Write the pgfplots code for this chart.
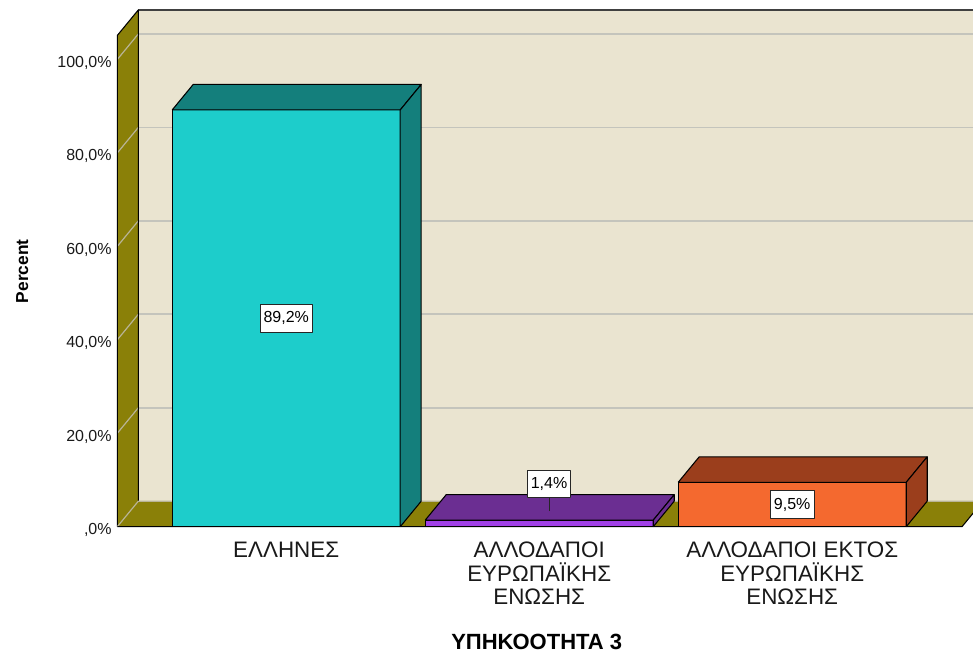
\documentclass[border=0pt]{standalone}
\usepackage{fontspec}
\setmainfont{Liberation Sans}
\usepackage{pgfplots}
\pgfplotsset{compat=1.18}
\definecolor{wallback}{RGB}{234,228,208}
\definecolor{olivew}{RGB}{138,128,8}
\definecolor{gridc}{RGB}{196,196,188}
\definecolor{gridw}{RGB}{185,180,150}
\definecolor{cyanF}{RGB}{29,205,203}
\definecolor{cyanD}{RGB}{20,127,124}
\definecolor{purF}{RGB}{160,64,230}
\definecolor{purD}{RGB}{107,46,146}
\definecolor{orF}{RGB}{244,105,47}
\definecolor{orD}{RGB}{155,62,28}
\begin{document}
\begin{tikzpicture}
\begin{axis}[
  scale only axis, width=643.5pt, height=390.75pt,
  xmin=-0.6767, xmax=2.7146, ymin=-0.492, ymax=111.02,
  axis line style={draw=none}, tick style={draw=none},
  major tick length=0pt,
  xtick={0,1,2},
  xticklabels={ΕΛΛΗΝΕΣ,{ΑΛΛΟΔΑΠΟΙ\\ΕΥΡΩΠΑΪΚΗΣ\\ΕΝΩΣΗΣ},{ΑΛΛΟΔΑΠΟΙ ΕΚΤΟΣ\\ΕΥΡΩΠΑΪΚΗΣ\\ΕΝΩΣΗΣ}},
  ytick={0,20,40,60,80,100},
  yticklabels={{,0\%},{20,0\%},{40,0\%},{60,0\%},{80,0\%},{100,0\%}},
  yticklabel style={font=\fontsize{12}{14}\selectfont, text=black!90, yshift=-2.5pt, xshift=1pt},
  xticklabel style={font=\fontsize{16.8}{17.6}\selectfont, align=center, text=black!90, yshift=-6.2pt},
  xlabel={ΥΠΗΚΟΟΤΗΤΑ 3},
  xlabel style={at={(axis description cs:0.4915,-0.2309)}, anchor=base, font=\bfseries\fontsize{16.5}{18}\selectfont},
  ylabel={Percent},
  ylabel style={at={(axis description cs:-0.1011,0.4948)}, anchor=base, font=\bfseries\fontsize{13}{14}\selectfont},
  clip=true,
  every axis plot/.append style={mark=none, line join=round},
]
% back wall
\addplot[fill=wallback, draw=none] coordinates {(-0.5846,5.458) (3,5.458) (3,110.6) (-0.5846,110.6)};
\addplot[gridc, line width=1.3pt] coordinates {(-0.5846,25.458) (3,25.458)};
\addplot[gridc, line width=1.3pt] coordinates {(-0.5846,45.458) (3,45.458)};
\addplot[gridc, line width=1.3pt] coordinates {(-0.5846,65.458) (3,65.458)};
\addplot[gridc, line width=1.3pt] coordinates {(-0.5846,85.458) (3,85.458)};
\addplot[gridc, line width=1.3pt] coordinates {(-0.5846,105.458) (3,105.458)};
\addplot[black!75, line width=1.2pt] coordinates {(-0.5846,110.6) (3,110.6)};
% left wall
\addplot[fill=olivew, draw=none] coordinates {(-0.6676,0) (-0.6676,105.14) (-0.5846,110.6) (-0.5846,5.458) (-0.6676,0)};
\addplot[gridw, line width=0.9pt] coordinates {(-0.6676,20) (-0.5846,25.458)};
\addplot[gridw, line width=0.9pt] coordinates {(-0.6676,40) (-0.5846,45.458)};
\addplot[gridw, line width=0.9pt] coordinates {(-0.6676,60) (-0.5846,65.458)};
\addplot[gridw, line width=0.9pt] coordinates {(-0.6676,80) (-0.5846,85.458)};
\addplot[gridw, line width=0.9pt] coordinates {(-0.6676,100) (-0.5846,105.458)};
\addplot[black, line width=0.8pt] coordinates {(-0.6676,0) (-0.6676,105.14) (-0.5846,110.6) (-0.5846,5.458)};
% floor
\addplot[fill=olivew, draw=none] coordinates {(-0.6676,0) (2.671,0) (2.754,5.458) (-0.5846,5.458)};
\addplot[gridw, line width=0.9pt] coordinates {(-0.6676,0) (-0.5846,5.458) (3,5.458)};
\addplot[black, line width=0.8pt] coordinates {(-0.6676,0) (2.671,0) (2.754,5.458)};
% bar 1
\addplot[fill=cyanF, draw=black, line width=0.8pt] coordinates {(-0.4506,0) (0.4506,0) (0.4506,89.2) (-0.4506,89.2) (-0.4506,0)};
\addplot[fill=cyanD, draw=black, line width=0.8pt] coordinates {(-0.4506,89.2) (0.4506,89.2) (0.5336,94.658) (-0.3676,94.658) (-0.4506,89.2)};
\addplot[fill=cyanD, draw=black, line width=0.8pt] coordinates {(0.4506,0) (0.5336,5.458) (0.5336,94.658) (0.4506,89.2) (0.4506,0)};
% bar 2
\addplot[fill=purF, draw=black, line width=0.8pt] coordinates {(0.5494,0) (1.4506,0) (1.4506,1.4) (0.5494,1.4) (0.5494,0)};
\addplot[fill=purD, draw=black, line width=0.8pt] coordinates {(0.5494,1.4) (1.4506,1.4) (1.5336,6.858) (0.6324,6.858) (0.5494,1.4)};
\addplot[fill=purD, draw=black, line width=0.8pt] coordinates {(1.4506,0) (1.5336,5.458) (1.5336,6.858) (1.4506,1.4) (1.4506,0)};
% bar 3
\addplot[fill=orF, draw=black, line width=0.8pt] coordinates {(1.5494,0) (2.4506,0) (2.4506,9.5) (1.5494,9.5) (1.5494,0)};
\addplot[fill=orD, draw=black, line width=0.8pt] coordinates {(1.5494,9.5) (2.4506,9.5) (2.5336,14.958) (1.6324,14.958) (1.5494,9.5)};
\addplot[fill=orD, draw=black, line width=0.8pt] coordinates {(2.4506,0) (2.5336,5.458) (2.5336,14.958) (2.4506,9.5) (2.4506,0)};
% leader line
\addplot[black!85, line width=0.6pt] coordinates {(1.0415,3.36) (1.0415,7.0)};
% data labels
\addplot[draw=none, nodes near coords, point meta=explicit symbolic,
  nodes near coords style={anchor=center, fill=white, draw=black!85, line width=0.6pt, inner xsep=2.6pt, inner ysep=0pt, minimum height=20.5pt, font=\fontsize{12}{14}\selectfont, text=black}]
  coordinates {(0,44.6) [89,2\%] (1.039,9.14) [1,4\%] (2,4.75) [9,5\%]};
\end{axis}
\pgfresetboundingbox
\path[use as bounding box, x=0.75pt, y=0.75pt] (-115,-128) rectangle (858,529);
\end{tikzpicture}
\end{document}
